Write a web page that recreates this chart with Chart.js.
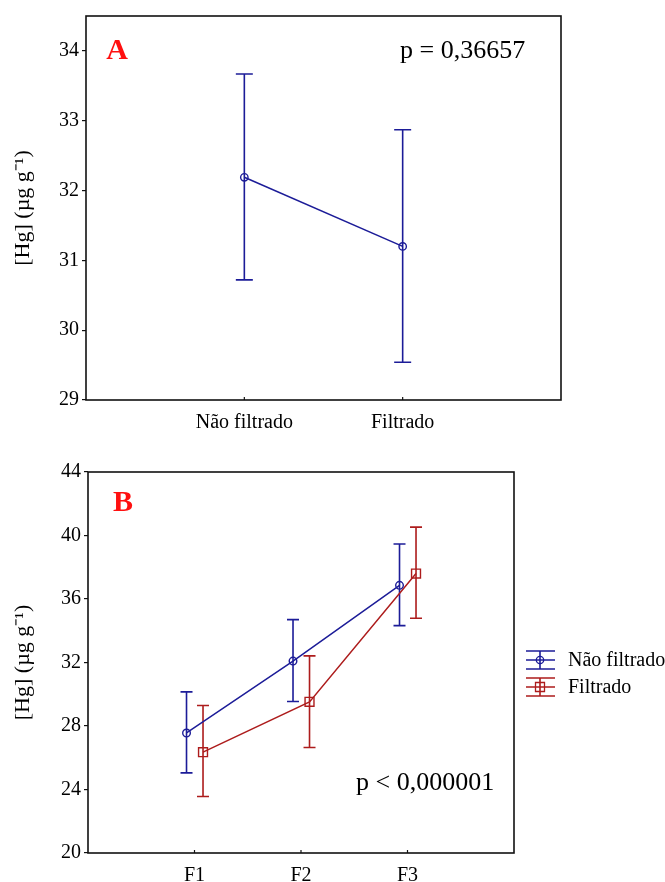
<!DOCTYPE html>
<html>
<head>
<meta charset="utf-8">
<script src="https://cdn.jsdelivr.net/npm/chart.js@4"></script>
<style>
  html, body { margin: 0; padding: 0; background: #fff; }
  #wrapA { position: absolute; left: 0; top: 0; width: 665px; height: 440px; }
  #wrapB { position: absolute; left: 0; top: 440px; width: 665px; height: 442px; }
</style>
</head>
<body>
<div id="wrapA"><canvas id="chartA" width="665" height="440"></canvas></div>
<div id="wrapB"><canvas id="chartB" width="665" height="442"></canvas></div>
<script>
// chart A
var categoriesA = ['Não filtrado', 'Filtrado'];
var meanA = [32.19, 31.2];
var upperA = [33.67, 32.87];
var lowerA = [30.72, 29.54];
var yTicksA = [29, 30, 31, 32, 33, 34];

// chart B
var categoriesB = ['F1', 'F2', 'F3'];
var seriesNames = ['Não filtrado', 'Filtrado'];
var naoFiltradoMean = [27.56, 32.09, 36.86];
var naoFiltradoUpper = [30.15, 34.70, 39.46];
var naoFiltradoLower = [25.05, 29.54, 34.32];
var filtradoMean = [26.35, 29.52, 37.6];
var filtradoUpper = [29.29, 32.42, 40.53];
var filtradoLower = [23.56, 26.65, 34.79];
var yTicksB = [20, 24, 28, 32, 36, 40, 44];

var SERIF = "'Liberation Serif', 'Times New Roman', serif";
var BLUE = '#1c1c98';
var RED = '#ad1c1c';
var yTitle = '[Hg] (µg g⁻¹)';

var errorBars = {
  id: 'errorBars',
  beforeDatasetsDraw: function(chart) {
    var ctx = chart.ctx;
    var ys = chart.scales.y;
    chart.data.datasets.forEach(function(ds, di) {
      var meta = chart.getDatasetMeta(di);
      ctx.save();
      ctx.strokeStyle = ds.borderColor;
      ctx.lineWidth = 1.6;
      meta.data.forEach(function(pt, i) {
        var hi = ys.getPixelForValue(ds.upper[i]);
        var lo = ys.getPixelForValue(ds.lower[i]);
        var w = ds.capHalf;
        ctx.beginPath();
        ctx.moveTo(pt.x, hi); ctx.lineTo(pt.x, lo);
        ctx.moveTo(pt.x - w, hi); ctx.lineTo(pt.x + w, hi);
        ctx.moveTo(pt.x - w, lo); ctx.lineTo(pt.x + w, lo);
        ctx.stroke();
      });
      ctx.restore();
    });
  }
};

var frame = {
  id: 'frame',
  afterDraw: function(chart) {
    var ctx = chart.ctx, a = chart.chartArea;
    ctx.save();
    ctx.strokeStyle = '#111';
    ctx.lineWidth = 1.6;
    ctx.strokeRect(a.left, a.top, a.right - a.left, a.bottom - a.top);
    // small inward ticks on x axis
    ctx.lineWidth = 1.2;
    chart.scales.x.ticks.forEach(function(t) {
      var x = chart.scales.x.getPixelForValue(t.value);
      ctx.beginPath();
      ctx.moveTo(x, a.bottom); ctx.lineTo(x, a.bottom - 3);
      ctx.stroke();
    });
    ctx.restore();
  }
};

var notes = {
  id: 'notes',
  afterDraw: function(chart, args, opts) {
    var ctx = chart.ctx;
    ctx.save();
    ctx.textBaseline = 'middle';
    ctx.textAlign = 'center';
    ctx.fillStyle = '#ff1010';
    ctx.font = 'bold 30px ' + SERIF;
    ctx.fillText(opts.letter, opts.letterX, opts.letterY);
    ctx.textAlign = 'left';
    ctx.textBaseline = 'alphabetic';
    ctx.fillStyle = '#000';
    ctx.font = '26px ' + SERIF;
    ctx.fillText(opts.pText, opts.pX, opts.pY);
    ctx.restore();
  }
};

var legendBox = {
  id: 'legendBox',
  afterDraw: function(chart) {
    var ctx = chart.ctx;
    var rows = [220, 247];
    var cx = 540;
    chart.data.datasets.forEach(function(ds, i) {
      var y = rows[i];
      ctx.save();
      ctx.strokeStyle = ds.borderColor;
      ctx.lineWidth = 1.6;
      ctx.beginPath();
      ctx.moveTo(526, y - 9); ctx.lineTo(555, y - 9);
      ctx.moveTo(526, y); ctx.lineTo(555, y);
      ctx.moveTo(526, y + 9); ctx.lineTo(555, y + 9);
      ctx.moveTo(cx, y - 9); ctx.lineTo(cx, y + 9);
      ctx.stroke();
      ctx.lineWidth = 1.3;
      ctx.beginPath();
      if (ds.pointStyle === 'circle') {
        ctx.arc(cx, y, 3.7, 0, Math.PI * 2);
      } else {
        ctx.rect(cx - 4.5, y - 4.5, 9, 9);
      }
      ctx.stroke();
      ctx.fillStyle = '#000';
      ctx.font = '20px ' + SERIF;
      ctx.textBaseline = 'middle';
      ctx.fillText(ds.label, 568, y + 1);
      ctx.restore();
    });
  }
};

function yScale(ticks, min, max, width) {
  return {
    type: 'linear',
    min: min,
    max: max,
    afterBuildTicks: function(s) { s.ticks = ticks.map(function(v) { return { value: v }; }); },
    afterFit: function(s) { s.width = width; },
    grid: { drawOnChartArea: false, tickLength: 4, color: '#111', lineWidth: 1.2 },
    border: { display: false },
    ticks: { color: '#000', padding: 3, font: { family: SERIF, size: 20 } },
    title: { display: true, text: yTitle, color: '#000', padding: { top: 10, bottom: 0 },
             font: { family: SERIF, size: 22 } }
  };
}

function xScale(cats, max, height, pad) {
  return {
    type: 'linear',
    min: 0,
    max: max,
    afterBuildTicks: function(s) { s.ticks = cats.map(function(c, i) { return { value: i + 1 }; }); },
    afterFit: function(s) { s.height = height; },
    grid: { display: true, drawOnChartArea: false, drawTicks: false },
    border: { display: false },
    ticks: { color: '#000', padding: pad, font: { family: SERIF, size: 20 },
             callback: function(v) { return cats[v - 1] || ''; } }
  };
}

function lineSet(label, mean, upper, lower, color, style, radius, offset, capHalf) {
  return {
    label: label,
    data: mean.map(function(v, i) { return { x: i + 1 + offset, y: v }; }),
    upper: upper,
    lower: lower,
    capHalf: capHalf,
    borderColor: color,
    borderWidth: 1.5,
    pointStyle: style,
    pointRadius: radius,
    pointBorderWidth: 1.4,
    pointBorderColor: color,
    pointBackgroundColor: 'rgba(0,0,0,0)',
    tension: 0,
    fill: false
  };
}

new Chart(document.getElementById('chartA'), {
  type: 'line',
  data: {
    datasets: [lineSet(seriesNames[0], meanA, upperA, lowerA, BLUE, 'circle', 3.7, 0, 8.5)]
  },
  options: {
    responsive: false,
    animation: false,
    layout: { padding: { top: 16, right: 104, left: 0, bottom: 0 } },
    scales: { x: xScale(categoriesA, 3, 40, 11), y: yScale(yTicksA, 29, 34.5, 86) },
    plugins: {
      legend: { display: false },
      tooltip: { enabled: false },
      notes: { letter: 'A', letterX: 117, letterY: 51, pText: 'p = 0,36657', pX: 400, pY: 58 }
    }
  },
  plugins: [errorBars, frame, notes]
});

new Chart(document.getElementById('chartB'), {
  type: 'line',
  data: {
    datasets: [
      lineSet(seriesNames[0], naoFiltradoMean, naoFiltradoUpper, naoFiltradoLower, BLUE, 'circle', 3.8, -0.075, 6),
      lineSet(seriesNames[1], filtradoMean, filtradoUpper, filtradoLower, RED, 'rect', 6.3, 0.08, 6)
    ]
  },
  options: {
    responsive: false,
    animation: false,
    layout: { padding: { top: 32, right: 151, left: 0, bottom: 0 } },
    scales: { x: xScale(categoriesB, 4, 29, 11), y: yScale(yTicksB, 20, 44, 88) },
    plugins: {
      legend: { display: false },
      tooltip: { enabled: false },
      notes: { letter: 'B', letterX: 123, letterY: 63, pText: 'p < 0,000001', pX: 356, pY: 350 }
    }
  },
  plugins: [errorBars, frame, notes, legendBox]
});
</script>
</body>
</html>
